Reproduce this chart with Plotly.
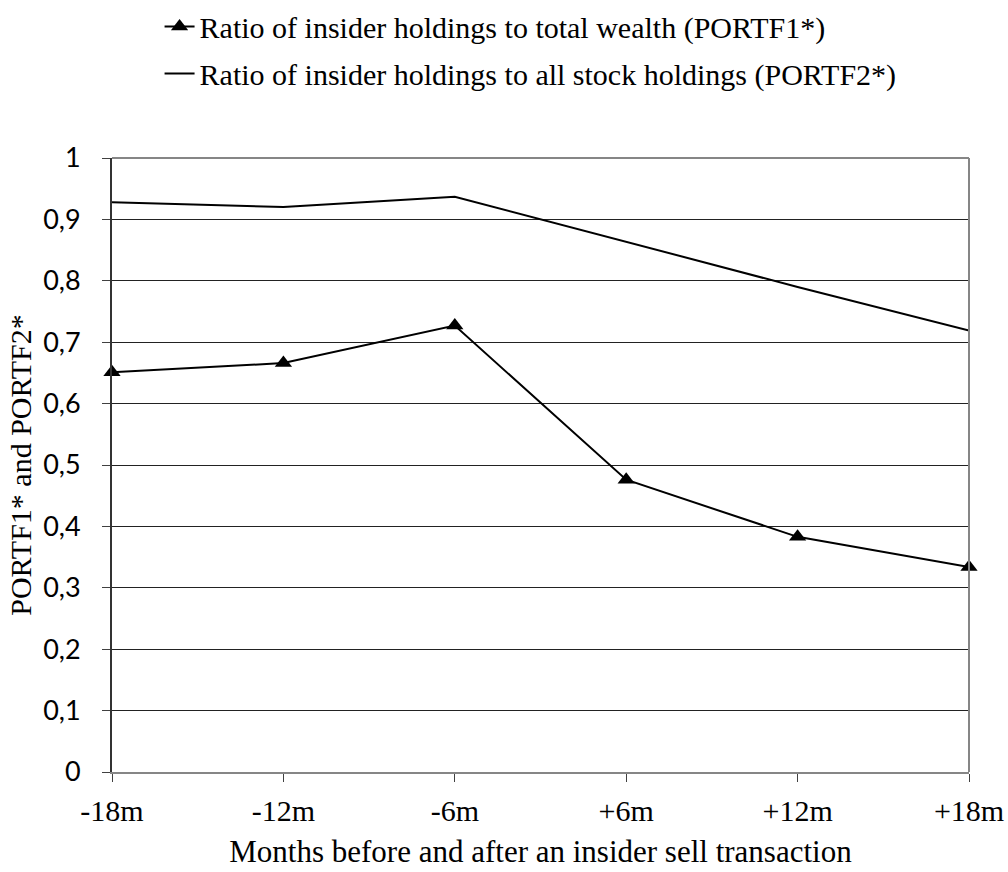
import plotly.graph_objects as go

categories = ["-18m", "-12m", "-6m", "+6m", "+12m", "+18m"]
portf1 = [0.651, 0.666, 0.727, 0.476, 0.383, 0.334]
portf2 = [0.928, 0.920, 0.937, 0.864, 0.790, 0.719]
name1 = "Ratio of insider holdings to total wealth (PORTF1*)"
name2 = "Ratio of insider holdings to all stock holdings (PORTF2*)"

serif = "Liberation Serif, Times New Roman, serif"
sans = "Lato, Liberation Sans, Arial, sans-serif"

fig = go.Figure()
fig.add_trace(go.Scatter(
    x=categories, y=portf1, name=name1, mode="lines+markers",
    line=dict(color="black", width=2),
    marker=dict(symbol="triangle-up", size=15, color="black"),
    cliponaxis=False, legendgroup="a",
))
fig.add_trace(go.Scatter(
    x=categories, y=portf2, name=name2, mode="lines",
    line=dict(color="black", width=2),
    cliponaxis=False, legendgroup="b",
))

fig.update_layout(
    width=1008, height=872,
    margin=dict(l=112, r=39, t=158, b=100, autoexpand=False),
    paper_bgcolor="white", plot_bgcolor="white",
    separators=", ",
    showlegend=True,
    legend=dict(
        x=0.0555, y=1.2565, xanchor="left", yanchor="top",
        font=dict(family=serif, size=30, color="black"),
        tracegroupgap=5, bgcolor="rgba(0,0,0,0)",
        itemwidth=30,
    ),
    xaxis=dict(
        type="category", range=[0, 5], automargin=False,
        showgrid=False, zeroline=False,
        showline=True, linecolor="#868686", linewidth=2,
        ticks="outside", ticklen=8, tickcolor="#404040", tickwidth=1,
        tickfont=dict(family=serif, size=30, color="black"),
        ticklabelstandoff=3,
        title=dict(text="Months before and after an insider sell transaction",
                   font=dict(family=serif, size=31, color="black"), standoff=14),
    ),
    yaxis=dict(
        range=[0, 1], dtick=0.1, tick0=0, automargin=False,
        showgrid=True, gridcolor="#222222", gridwidth=1,
        zeroline=False,
        showline=True, linecolor="#333333", linewidth=2,
        ticks="outside", ticklen=8, tickcolor="#404040", tickwidth=1,
        tickfont=dict(family=sans, size=27, color="black"),
        ticklabelstandoff=16,
        title=dict(text="PORTF1* and PORTF2*",
                   font=dict(family=serif, size=30, color="black"), standoff=3),
    ),
)

# plot-area border (top and right edges, grey)
fig.add_shape(type="line", xref="paper", yref="paper", x0=0, x1=1, y0=1, y1=1,
              line=dict(color="#868686", width=2))
fig.add_shape(type="line", xref="paper", yref="paper", x0=1, x1=1, y0=0, y1=1,
              line=dict(color="#868686", width=2))

fig.write_html("out.html", config={"displayModeBar": False},
               post_script="document.body.style.margin='0';")
